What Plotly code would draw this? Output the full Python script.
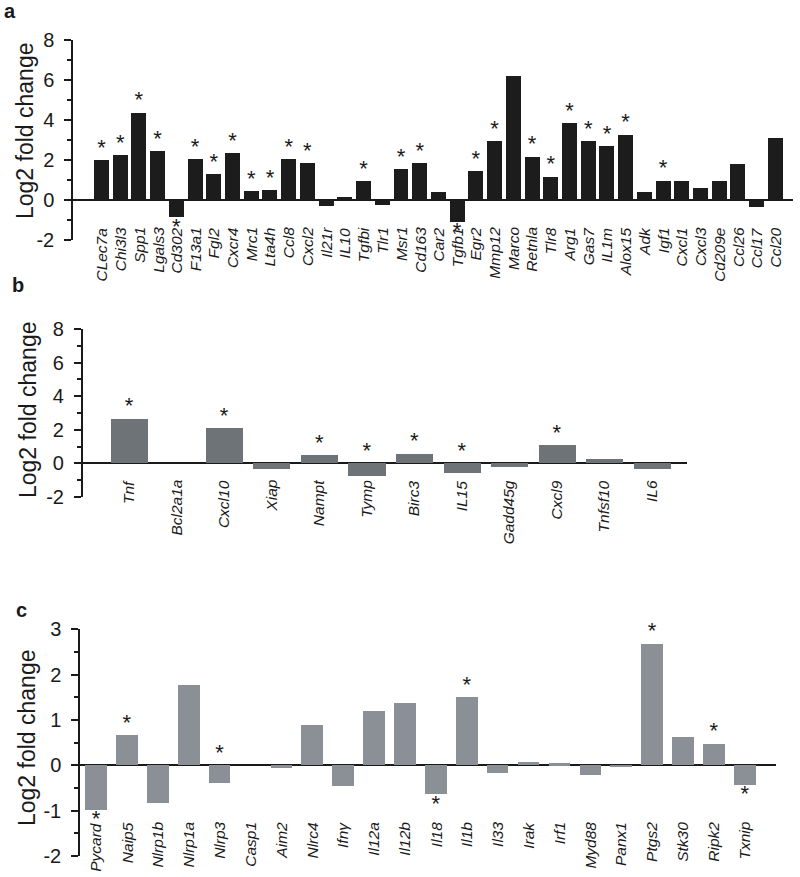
import plotly.graph_objects as go

W, H = 800, 877

# ---------------- data ----------------
a_genes = ["CLec7a", "Chi3l3", "Spp1", "Lgals3", "Cd302", "F13a1", "Fgl2", "Cxcr4", "Mrc1", "Lta4h",
           "Ccl8", "Cxcl2", "Il21r", "IL10", "Tgfbi", "Tlr1", "Msr1", "Cd163", "Car2", "Tgfb1",
           "Egr2", "Mmp12", "Marco", "Retnla", "Tlr8", "Arg1", "Gas7", "IL1m", "Alox15", "Adk",
           "Igf1", "Cxcl1", "Cxcl3", "Cd209e", "Ccl26", "Ccl17", "Ccl20"]
a_values = [2.0, 2.23, 4.37, 2.43, -0.87, 2.03, 1.28, 2.33, 0.45, 0.5,
            2.03, 1.83, -0.32, 0.15, 0.93, -0.25, 1.53, 1.85, 0.42, -1.08,
            1.45, 2.95, 6.22, 2.17, 1.17, 3.85, 2.95, 2.7, 3.27, 0.4,
            0.97, 0.97, 0.6, 0.97, 1.78, -0.35, 3.08]
a_stars = ["u", "u", "u", "u", "d", "u", "u", "u", "u", "u",
           "u", "u", "", "", "u", "", "u", "u", "", "d",
           "u", "u", "", "u", "u", "u", "u", "u", "u", "",
           "u", "", "", "", "", "", ""]
a_tickvals = [-2, 0, 2, 4, 6, 8]
a_ticktext = ["-2", "0", "2", "4", "6", "8"]

b_genes = ["Tnf", "Bcl2a1a", "Cxcl10", "Xiap", "Nampt", "Tymp", "Birc3", "IL15",
           "Gadd45g", "Cxcl9", "Tnfsf10", "IL6"]
b_values = [2.66, 0.0, 2.10, -0.32, 0.48, -0.73, 0.56, -0.58, -0.2, 1.07, 0.28, -0.34]
b_stars = ["u", "", "u", "", "u", "z", "u", "z", "", "u", "", ""]
b_tickvals = [-2, 0, 2, 4, 6, 8]
b_ticktext = ["-2", "0", "2", "4", "6", "8"]

c_genes = ["Pycard", "Naip5", "Nlrp1b", "Nlrp1a", "Nlrp3", "Casp1", "Aim2", "Nlrc4", "Ifnγ",
           "Il12a", "Il12b", "Il18", "Il1b", "Il33", "Irak", "Irf1", "Myd88", "Panx1",
           "Ptgs2", "Stk30", "Ripk2", "Txnip"]
c_values = [-0.98, 0.66, -0.83, 1.77, -0.40, 0.0, -0.06, 0.88, -0.45,
            1.19, 1.36, -0.64, 1.50, -0.17, 0.07, 0.04, -0.21, -0.05,
            2.68, 0.62, 0.47, -0.43]
c_stars = ["d", "u", "", "", "z", "", "", "", "",
           "", "", "d", "u", "", "", "", "", "",
           "u", "", "u", "d"]
c_tickvals = [-2, -1, 0, 1, 2, 3]
c_ticktext = ["-2", "-1", "0", "1", "2", "3"]

# ---------------- layout config (pixel coordinates of the picture) ----------------
FONT = "Liberation Sans, Arial, Helvetica, sans-serif"
INK = "#1a1a1a"


def fx(px):
    return min(max(px / W, 0.0), 1.0)


def fy(py):
    return min(max(1 - py / H, 0.0), 1.0)


panels = [
    dict(genes=a_genes, vals=a_values, stars=a_stars, tv=a_tickvals, tt=a_ticktext,
         color="#1c1c1c", xdom=(73, 793), xr=(-1.52, 36.94), ydom=(240.3, 40.3), yr=(-2, 8),
         minor=1, bw=0.8, lab_y=-1.24, letter="a", letter_pos=(10, 11), title_pos=(25, 131)),
    dict(genes=b_genes, vals=b_values, stars=b_stars, tv=b_tickvals, tt=b_ticktext,
         color="#6d7376", xdom=(82.7, 686.7), xr=(-0.974, 11.73), ydom=(496.9, 328.9), yr=(-2, 8),
         minor=1, bw=0.78, lab_y=-0.875, letter="b", letter_pos=(18, 285), title_pos=(28, 410)),
    dict(genes=c_genes, vals=c_values, stars=c_stars, tv=c_tickvals, tt=c_ticktext,
         color="#8a9095", xdom=(80, 776), xr=(-0.518, 22.01), ydom=(856.1, 629.1), yr=(-2, 3),
         minor=0.5, bw=0.70, lab_y=-1.2, letter="c", letter_pos=(21, 610), title_pos=(27, 738)),
]

fig = go.Figure()
annotations = []
layout = {}

for i, p in enumerate(panels, start=1):
    xa = "x" if i == 1 else f"x{i}"
    ya = "y" if i == 1 else f"y{i}"
    xkey = "xaxis" if i == 1 else f"xaxis{i}"
    ykey = "yaxis" if i == 1 else f"yaxis{i}"

    fig.add_trace(go.Bar(x=p["genes"], y=p["vals"], width=p["bw"], marker_color=p["color"],
                         marker_line_width=0, xaxis=xa, yaxis=ya, showlegend=False,
                         hoverinfo="x+y"))

    sx, sy, sp = [], [], []
    for g, v, s in zip(p["genes"], p["vals"], p["stars"]):
        if s == "u":
            sx.append(g); sy.append(max(v, 0)); sp.append("top center")
        elif s == "d":
            sx.append(g); sy.append(min(v, 0)); sp.append("bottom center")
        elif s == "z":
            sx.append(g); sy.append(0); sp.append("top center")
    fig.add_trace(go.Scatter(x=sx, y=sy, mode="text", text=["*"] * len(sx), textposition=sp,
                             textfont=dict(size=22, color=INK, family=FONT),
                             xaxis=xa, yaxis=ya, showlegend=False, hoverinfo="skip",
                             cliponaxis=False))

    layout[xkey] = dict(domain=[fx(p["xdom"][0]), fx(p["xdom"][1])], range=list(p["xr"]),
                        type="category", visible=False, anchor=ya)
    layout[ykey] = dict(domain=[fy(p["ydom"][0]), fy(p["ydom"][1])], range=list(p["yr"]),
                        anchor=xa, showline=True, linecolor=INK, linewidth=1.5,
                        ticks="outside", ticklen=7, tickwidth=1.5, tickcolor=INK,
                        tickmode="array", tickvals=p["tv"], ticktext=p["tt"],
                        tickfont=dict(size=20, color=INK, family=FONT),
                        minor=dict(dtick=p["minor"], tick0=0, ticks="outside", ticklen=4,
                                   tickwidth=1.5, tickcolor=INK),
                        showgrid=False, zeroline=True, zerolinecolor=INK, zerolinewidth=1.5,
                        ticklabelstandoff=6, automargin=False)

    # gene labels
    for g in p["genes"]:
        annotations.append(dict(x=g, y=p["lab_y"], xref=xa, yref=ya, text=f"<i>{g}</i>",
                                textangle=-90, xanchor="center", yanchor="top", showarrow=False,
                                font=dict(size=15.5, color=INK, family=FONT)))
    # axis title
    annotations.append(dict(x=fx(p["title_pos"][0]), y=fy(p["title_pos"][1]),
                            xref="paper", yref="paper",
                            text="Log2 fold change", textangle=-90, showarrow=False,
                            xanchor="center", yanchor="middle",
                            font=dict(size=23, color=INK, family=FONT)))
    # panel letter
    annotations.append(dict(x=fx(p["letter_pos"][0]), y=fy(p["letter_pos"][1]),
                            xref="paper", yref="paper", text=f"<b>{p['letter']}</b>",
                            showarrow=False, xanchor="center", yanchor="middle",
                            font=dict(size=20, color=INK, family=FONT)))

fig.update_layout(width=W, height=H, margin=dict(l=0, r=0, t=0, b=0, autoexpand=False),
                  paper_bgcolor="white", plot_bgcolor="white", bargap=0,
                  annotations=annotations, **layout)

fig.write_html("out.html", config={"displayModeBar": False},
               post_script="document.body.style.margin='0';document.body.style.overflow='hidden';")
